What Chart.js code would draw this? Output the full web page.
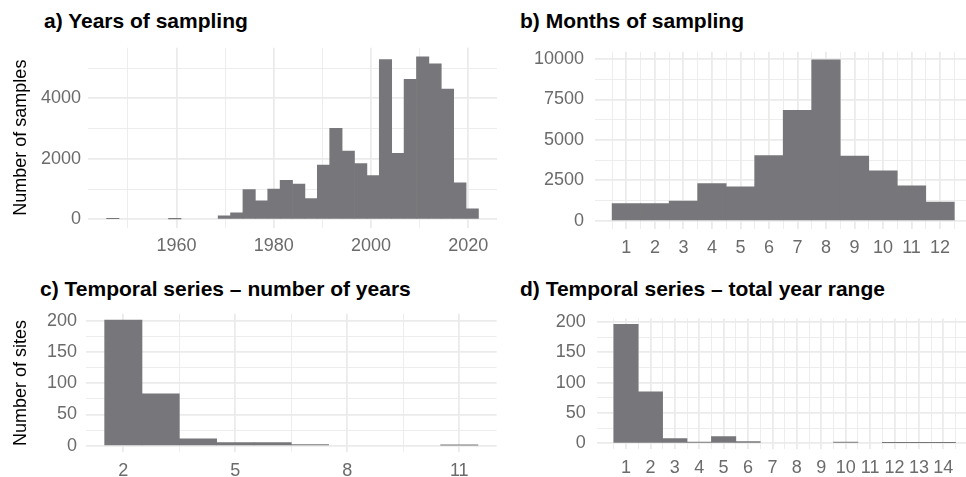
<!DOCTYPE html>
<html>
<head>
<meta charset="utf-8">
<script src="https://cdn.jsdelivr.net/npm/chart.js@4.4.1/dist/chart.umd.min.js"></script>
<style>
  body { margin: 0; width: 966px; height: 477px; overflow: hidden; background: #fff; position: relative;
         font-family: "Liberation Sans", Arial, sans-serif; }
  canvas { position: absolute; }
  .ttl { position: absolute; font-weight: bold; font-size: 21px; line-height: 21px; color: #000; white-space: nowrap; }
</style>
</head>
<body>
<div class="ttl" style="left:44px;top:9.5px">a) Years of sampling</div>
<div class="ttl" style="left:520px;top:9.5px">b) Months of sampling</div>
<div class="ttl" style="left:40px;top:278px">c) Temporal series – number of years</div>
<div class="ttl" style="left:520px;top:278px">d) Temporal series – total year range</div>

<canvas id="chartA" width="500" height="235" style="left:0;top:30px"></canvas>
<canvas id="chartB" width="475" height="235" style="left:500px;top:30px"></canvas>
<canvas id="chartC" width="500" height="187" style="left:0;top:290px"></canvas>
<canvas id="chartD" width="475" height="187" style="left:500px;top:290px"></canvas>

<script>
// a) Years of sampling (30 bins, ~2.55 years wide)
const yearBins = [1946.88, 1949.43, 1951.98, 1954.53, 1957.08, 1959.63, 1962.18, 1964.73, 1967.28, 1969.83,
                  1972.38, 1974.93, 1977.48, 1980.03, 1982.58, 1985.13, 1987.68, 1990.23, 1992.78, 1995.33,
                  1997.88, 2000.43, 2002.98, 2005.53, 2008.08, 2010.63, 2013.18, 2015.73, 2018.28, 2020.83];
const yearCounts = [20, 0, 0, 0, 0, 15, 0, 0, 0, 115,
                    216, 980, 609, 1000, 1289, 1165, 690, 1793, 3008, 2257,
                    1845, 1443, 5277, 2185, 4627, 5369, 5141, 4306, 1205, 350];
const yearTicks = [1960, 1980, 2000, 2020];
const sampleTicks = [0, 2000, 4000];

// b) Months of sampling
const months = [1, 2, 3, 4, 5, 6, 7, 8, 9, 10, 11, 12];
const monthCounts = [1070, 1075, 1220, 2308, 2100, 4037, 6830, 9950, 3998, 3097, 2157, 1165];
const monthCountTicks = [0, 2500, 5000, 7500, 10000];

// c) Temporal series - number of years
const nYears = [2, 3, 4, 5, 6, 7, 8, 9, 10, 11];
const sitesByYears = [201, 83, 11, 5, 5, 2, 0, 0, 0, 1];
const nYearTicks = [2, 5, 8, 11];

// d) Temporal series - total year range
const yearRange = [1, 2, 3, 4, 5, 6, 7, 8, 9, 10, 11, 12, 13, 14];
const sitesByRange = [196, 85, 8, 2, 11, 3, 0, 0, 0, 2, 0, 1, 1, 1];

const siteTicks = [0, 50, 100, 150, 200];

const BAR = '#77777b';
const GRID = '#ebebeb';
const TICK = '#6b6b6b';
const FONT = '"Liberation Sans", Arial, sans-serif';

// minor breaks halfway between majors, plus one step beyond each end
function minors(major) {
  const out = [];
  const step = major[1] - major[0];
  const ext = [major[0] - step].concat(major, [major[major.length - 1] + step]);
  for (let i = 0; i < ext.length - 1; i++) out.push((ext[i] + ext[i + 1]) / 2);
  return out;
}

function axis(cfgMin, cfgMax, major, minor, pad, extra) {
  const all = major.concat(minor).filter(v => v >= cfgMin && v <= cfgMax);
  const isMajor = v => major.includes(v);
  return Object.assign({
    type: 'linear',
    min: cfgMin,
    max: cfgMax,
    offset: false,
    border: { display: false },
    grid: {
      offset: false,
      drawTicks: false,
      color: GRID,
      lineWidth: c => (c.tick && isMajor(c.tick.value)) ? 1.8 : 0.9
    },
    afterBuildTicks: s => { s.ticks = all.map(v => ({ value: v })); },
    ticks: {
      autoSkip: false,
      maxRotation: 0,
      padding: pad,
      color: TICK,
      font: { family: FONT, size: 18 },
      callback: v => isMajor(v) ? String(v) : ''
    }
  }, extra);
}

function panel(id, xs, ys, cfg) {
  new Chart(document.getElementById(id), {
    type: 'bar',
    data: {
      datasets: [{
        // empty bins are left out so nothing is drawn for them
        data: xs.map((x, i) => ({ x: x, y: ys[i] === 0 ? null : ys[i] })),
        backgroundColor: BAR,
        borderWidth: 0,
        barPercentage: 1,
        categoryPercentage: 1
      }]
    },
    options: {
      responsive: false,
      animation: false,
      devicePixelRatio: 1,
      layout: { padding: { top: cfg.top, right: cfg.right, left: 0, bottom: 0 } },
      plugins: { legend: { display: false }, tooltip: { enabled: false } },
      scales: {
        x: axis(cfg.x[0], cfg.x[1], cfg.xMajor, cfg.xMinor, 8, {
          afterFit: s => { s.height = cfg.xh; }
        }),
        y: axis(cfg.y[0], cfg.y[1], cfg.yMajor, cfg.yMinor, cfg.yPad, {
          afterFit: s => { s.width = cfg.yw; },
          title: cfg.yTitle ? {
            display: true, text: cfg.yTitle, color: '#000',
            font: { family: FONT, size: 18 }, padding: { top: 10, bottom: 0 }
          } : { display: false }
        })
      }
    }
  });
}

panel('chartA', yearBins, yearCounts, {
  x: [1941.78, 2025.92], xMajor: yearTicks, xMinor: minors(yearTicks),
  y: [-270, 5670], yMajor: sampleTicks, yMinor: minors(sampleTicks),
  top: 4.8, right: 3, xh: 37.5, yw: 88, yPad: 7, yTitle: 'Number of samples'
});

panel('chartB', months, monthCounts, {
  x: [-0.1, 13.1], xMajor: months, xMinor: minors(months),
  y: [-497.5, 10447.5], yMajor: monthCountTicks, yMinor: minors(monthCountTicks),
  top: 4.3, right: 3.6, xh: 36.1, yw: 95, yPad: 11
});

panel('chartC', nYears, sitesByYears, {
  x: [1, 12], xMajor: nYearTicks, xMinor: minors(nYearTicks),
  y: [-10.05, 211.05], yMajor: siteTicks, yMinor: minors(siteTicks),
  top: 23.8, right: 3.4, xh: 25, yw: 86, yPad: 9, yTitle: 'Number of sites'
});

panel('chartD', yearRange, sitesByRange, {
  x: [-0.2, 15.2], xMajor: yearRange, xMinor: minors(yearRange),
  y: [-9.8, 205.8], yMajor: siteTicks, yMinor: minors(siteTicks),
  top: 28.4, right: 2.4, xh: 27.7, yw: 96.7, yPad: 11
});
</script>
</body>
</html>
